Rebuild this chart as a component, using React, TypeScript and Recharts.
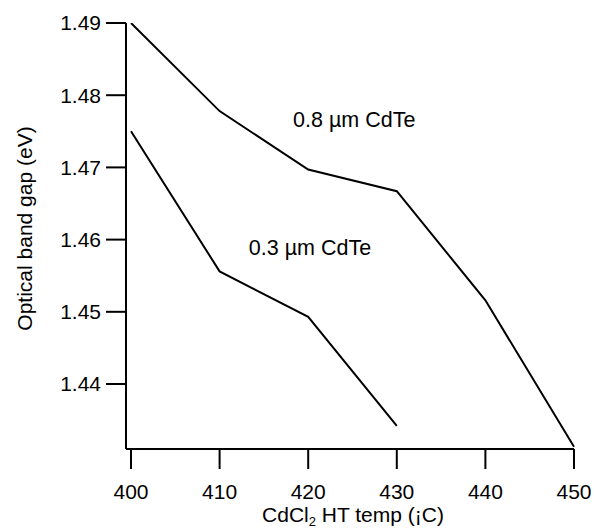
import React from 'react';
import { LineChart, Line, XAxis, YAxis, ReferenceDot, Label } from 'recharts';

const temps = [400, 410, 420, 430, 440, 450];
const gap08 = [1.49, 1.4778, 1.4697, 1.4667, 1.4516, 1.4313];
const gap03 = [1.475, 1.4556, 1.4493, 1.4342];
const xTicks = [400, 410, 420, 430, 440, 450];
const yTicks = [1.44, 1.45, 1.46, 1.47, 1.48, 1.49];
const seriesLabels = ['0.8 µm CdTe', '0.3 µm CdTe'];

const data = temps.map((t, i) => ({
  t,
  a: gap08[i] ?? null,
  b: gap03[i] ?? null,
}));

const FONT = 'Liberation Sans, Arial, sans-serif';
const FS = 21;

const AnnText = (props: any) => {
  const { viewBox, value } = props;
  const cx = viewBox.x + (viewBox.width || 0) / 2;
  const cy = viewBox.y + (viewBox.height || 0) / 2;
  return (
    <text x={cx} y={cy} textAnchor="middle" dominantBaseline="central" fontFamily={FONT} fontSize={21.5} fill="#000">
      {value}
    </text>
  );
};

export default function App() {
  return (
    <div style={{ position: 'absolute', left: 0, top: 0, background: '#fff' }}>
      <LineChart width={594} height={529} data={data} margin={{ top: 23, right: 20, bottom: 0, left: 0 }}>
        <XAxis
          dataKey="t"
          type="number"
          domain={[400, 450]}
          ticks={xTicks}
          padding={{ left: 5, right: 0 }}
          height={80}
          tickSize={20}
          tickMargin={15}
          stroke="#000"
          strokeWidth={2}
          tick={{ fill: '#000', fontSize: FS, fontFamily: FONT }}
          tickLine={{ stroke: '#000', strokeWidth: 2 }}
        >
          <Label
            content={() => (
              <text x={353} y={522} textAnchor="middle" fontFamily={FONT} fontSize={FS} fill="#000">
                CdCl<tspan fontSize={13} dy={4}>2</tspan><tspan dy={-4}> HT temp (¡C)</tspan>
              </text>
            )}
          />
        </XAxis>
        <YAxis
          type="number"
          domain={[1.431, 1.49]}
          ticks={yTicks}
          width={126}
          tickSize={20}
          tickMargin={5}
          stroke="#000"
          strokeWidth={2}
          tick={{ fill: '#000', fontSize: FS, fontFamily: FONT }}
          tickLine={{ stroke: '#000', strokeWidth: 2 }}
          tickFormatter={(v: number) => v.toFixed(2)}
          allowDataOverflow
        >
          <Label
            content={() => (
              <text
                x={24}
                y={228.5}
                transform="rotate(-90, 24, 228.5)"
                textAnchor="middle"
                dominantBaseline="central"
                fontFamily={FONT}
                fontSize={FS}
                fill="#000"
              >
                Optical band gap (eV)
              </text>
            )}
          />
        </YAxis>
        <Line dataKey="a" stroke="#000" strokeWidth={2} dot={false} isAnimationActive={false} />
        <Line dataKey="b" stroke="#000" strokeWidth={2} dot={false} isAnimationActive={false} />
        <ReferenceDot x={425.2} y={1.4766} r={0} fill="none" stroke="none" label={<AnnText value={seriesLabels[0]} />} />
        <ReferenceDot x={420.2} y={1.4588} r={0} fill="none" stroke="none" label={<AnnText value={seriesLabels[1]} />} />
      </LineChart>
    </div>
  );
}
